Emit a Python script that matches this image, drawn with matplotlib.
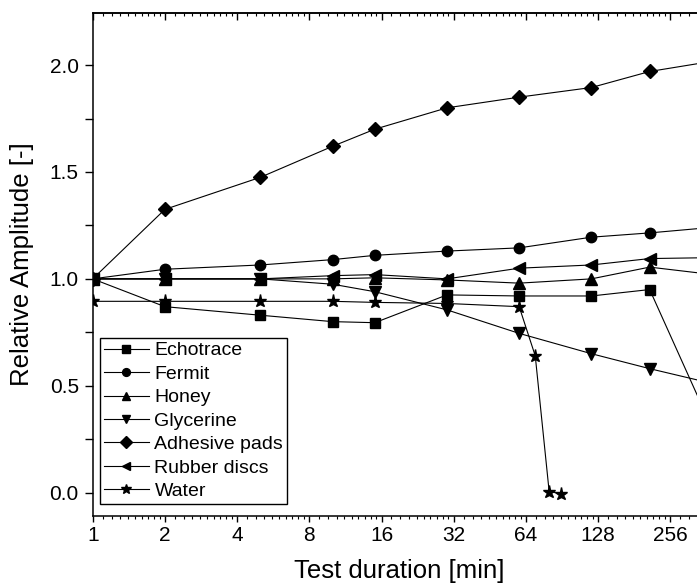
import numpy as np
import matplotlib
matplotlib.use("Agg")
import matplotlib.pyplot as plt
from matplotlib.ticker import FixedLocator, FixedFormatter, LogLocator, NullFormatter, MultipleLocator, FormatStrFormatter

plt.rcParams["font.family"] = ["Liberation Sans", "DejaVu Sans"]

# test duration [min]; last point lies past the visible right edge
time_main = [1, 2, 5, 10, 15, 30, 60, 120, 210, 420]
time_water = [1, 2, 5, 10, 15, 30, 60, 70, 80, 90]

echotrace = [1.0, 0.87, 0.83, 0.80, 0.795, 0.925, 0.92, 0.92, 0.95, 0.20]
fermit = [1.0, 1.045, 1.065, 1.09, 1.11, 1.13, 1.145, 1.195, 1.215, 1.245]
honey = [1.0, 1.0, 1.0, 1.0, 1.005, 0.995, 0.98, 1.0, 1.055, 1.015]
glycerine = [1.0, 1.0, 1.0, 0.975, 0.94, 0.855, 0.745, 0.65, 0.58, 0.50]
adhesive = [1.0, 1.325, 1.475, 1.62, 1.70, 1.80, 1.85, 1.895, 1.97, 2.025]
rubber = [1.0, 1.0, 1.0, 1.015, 1.02, 1.0, 1.05, 1.065, 1.095, 1.10]
water = [0.895, 0.895, 0.895, 0.895, 0.89, 0.885, 0.87, 0.64, 0.005, -0.005]

xticks = [1, 2, 4, 8, 16, 32, 64, 128, 256]
xtick_labels = ["1", "2", "4", "8", "16", "32", "64", "128", "256"]

series = [
    ("Echotrace", time_main, echotrace, "s", 7),
    ("Fermit", time_main, fermit, "o", 7.5),
    ("Honey", time_main, honey, "^", 8.5),
    ("Glycerine", time_main, glycerine, "v", 8.5),
    ("Adhesive pads", time_main, adhesive, "D", 7.5),
    ("Rubber discs", time_main, rubber, "<", 8.5),
    ("Water", time_water, water, "*", 9.5),
]

fig = plt.figure(figsize=(6.97, 5.85), dpi=100)
# axes reaches past the right border of the picture (cropped like the original)
ax = fig.add_axes([0.133, 0.118, 0.9323, 0.8603])

for name, xs, ys, mk, ms in series:
    ax.plot(xs, ys, color="black", linewidth=0.8, marker=mk, markersize=ms,
            markerfacecolor="black", markeredgecolor="black", label=name)

ax.set_xscale("log", base=2)
ax.set_xlim(1, 512)
ax.set_ylim(-0.109, 2.245)

minor_subs = np.arange(1.1, 2.0, 0.1)
ax.xaxis.set_major_locator(FixedLocator(xticks))
ax.xaxis.set_major_formatter(FixedFormatter(xtick_labels))
ax.xaxis.set_minor_locator(LogLocator(base=2, subs=minor_subs, numticks=30))
ax.xaxis.set_minor_formatter(NullFormatter())

ax.yaxis.set_major_locator(MultipleLocator(0.5))
ax.yaxis.set_minor_locator(MultipleLocator(0.25))
ax.yaxis.set_major_formatter(FormatStrFormatter("%.1f"))

for sp in ax.spines.values():
    sp.set_linewidth(1.1)

ax.tick_params(axis="x", which="major", direction="out", length=4.5, width=1.0,
               labelsize=15, pad=3, top=False)
ax.tick_params(axis="x", which="minor", direction="out", length=2.5, width=0.8, top=False)
ax.tick_params(axis="y", which="major", direction="out", length=6, width=1.0,
               labelsize=15, pad=4, right=False)
ax.tick_params(axis="y", which="minor", direction="out", length=6, width=1.0, right=False)

# inward ticks along the top spine
top = ax.secondary_xaxis("top")
top.set_xscale("log", base=2)
top.xaxis.set_major_locator(FixedLocator(xticks + [512]))
top.xaxis.set_minor_locator(LogLocator(base=2, subs=minor_subs, numticks=30))
top.xaxis.set_major_formatter(NullFormatter())
top.xaxis.set_minor_formatter(NullFormatter())
top.tick_params(which="major", direction="in", length=5, width=1.0)
top.tick_params(which="minor", direction="in", length=2.5, width=0.8)
top.spines["top"].set_linewidth(1.1)

ax.set_xlabel("Test duration [min]", fontsize=18.5)
ax.xaxis.set_label_coords(0.471, -0.085)
ax.set_ylabel("Relative Amplitude [-]", fontsize=18.5)
ax.yaxis.set_label_coords(-0.090, 0.5)

leg = ax.legend(loc="lower left", bbox_to_anchor=(0.0112, 0.0238), borderaxespad=0,
                fontsize=14, markerscale=0.75, handlelength=2.3, handletextpad=0.3,
                labelspacing=0.30, borderpad=0.2, fancybox=False, framealpha=1,
                edgecolor="black")
leg.get_frame().set_linewidth(1.0)

fig.savefig("out.png", dpi=100)
